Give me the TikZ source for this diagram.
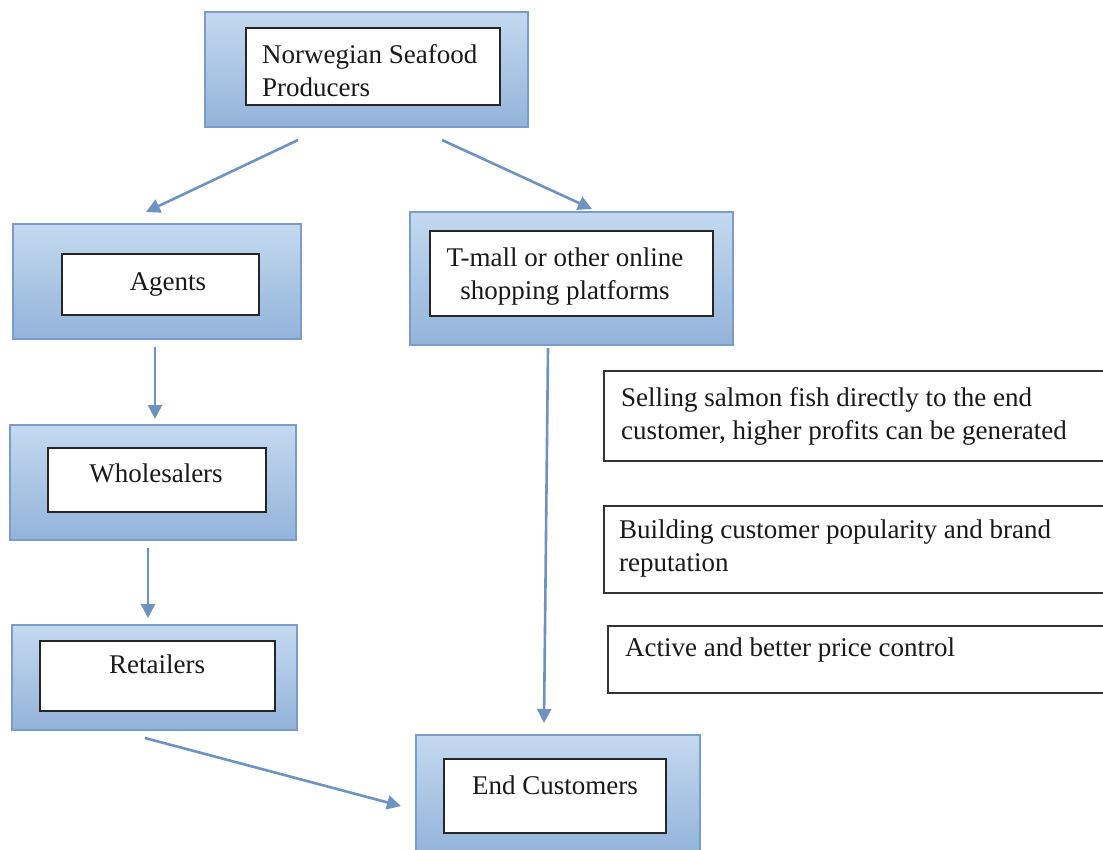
\documentclass[tikz,border=0pt]{standalone}
\usepackage{fontspec}
\setmainfont{Liberation Serif}
\usetikzlibrary{arrows.meta}
\definecolor{boxtop}{HTML}{C4D9F0}
\definecolor{boxbot}{HTML}{93B3DA}
\definecolor{boxline}{HTML}{7B9CC7}
\definecolor{arrowc}{HTML}{6F93C1}
\tikzset{
  outerbox/.style={rectangle, draw=boxline, line width=2.2pt, top color=boxtop, bottom color=boxbot, inner sep=0pt},
  innerbox/.style={rectangle, draw=black!85, line width=1.5pt, fill=white, inner sep=0pt},
  notebox/.style={rectangle, draw=black!80, line width=1.5pt, fill=white, inner sep=0pt},
  label/.style={inner sep=0pt, font=\fontsize{27}{33}\selectfont, text=black!90},
  flow/.style={draw=arrowc, line width=2.6pt, -{Triangle[length=14pt,width=14pt]}}
}
\begin{document}
\begin{tikzpicture}[x=1pt,y=-1pt]
\useasboundingbox[fill=white] (0,0) rectangle (1103,849);
% Producers
\node[outerbox, minimum width=323, minimum height=115] (prodO) at (366.5,69.5) {};
\node[innerbox, minimum width=254, minimum height=77] (prodI) at (373,66.5) {};
\node[label, align=left, anchor=north west] (prodT) at (262,44) {Norwegian Seafood\\Producers};
% Agents
\node[outerbox, minimum width=288, minimum height=115] (agO) at (157,281.5) {};
\node[innerbox, minimum width=197, minimum height=61] (agI) at (160.5,284.5) {};
\node[label] (agT) at (168,284) {Agents};
% T-mall
\node[outerbox, minimum width=323, minimum height=133] (tmO) at (571.5,278.5) {};
\node[innerbox, minimum width=283, minimum height=85] (tmI) at (571.5,273.5) {};
\node[label, align=center] (tmT) at (565,277) {T-mall or other online\\shopping platforms};
% Wholesalers
\node[outerbox, minimum width=286, minimum height=115] (whO) at (153,482.5) {};
\node[innerbox, minimum width=218, minimum height=64] (whI) at (157,480) {};
\node[label] (whT) at (156,473) {Wholesalers};
% Retailers
\node[outerbox, minimum width=285, minimum height=105] (reO) at (154.5,677.5) {};
\node[innerbox, minimum width=235, minimum height=70] (reI) at (157.5,676) {};
\node[label] (reT) at (157,664) {Retailers};
% End customers
\node[outerbox, minimum width=284, minimum height=120] (ecO) at (558,795) {};
\node[innerbox, minimum width=222, minimum height=74] (ecI) at (555,796) {};
\node[label] (ecT) at (555,785) {End Customers};
% Notes
\node[notebox, minimum width=512, minimum height=90, anchor=north west] (n1) at (603,370) {};
\node[label, align=left, anchor=north west] (n1T) at (621,387) {Selling salmon fish directly to the end\\customer, higher profits can be generated};
\node[notebox, minimum width=512, minimum height=87, anchor=north west] (n2) at (603,505) {};
\node[label, align=left, anchor=north west] (n2T) at (619,520) {Building customer popularity and brand\\reputation};
\node[notebox, minimum width=508, minimum height=67, anchor=north west] (n3) at (607,625) {};
\node[label, align=left, anchor=north west] (n3T) at (625,638) {Active and better price control};
% Connector end points
\coordinate (c1s) at (298,140); \coordinate (c1e) at (146,212);
\coordinate (c2s) at (442,140); \coordinate (c2e) at (592,209);
\coordinate (c3s) at (155,347); \coordinate (c3e) at (155,419);
\coordinate (c4s) at (148,548); \coordinate (c4e) at (148,618);
\coordinate (c5s) at (548,348); \coordinate (c5e) at (544,723);
\coordinate (c6s) at (145,738); \coordinate (c6e) at (401,806);
\draw[flow] (c1s) -- (c1e);
\draw[flow] (c2s) -- (c2e);
\draw[flow] (c3s) -- (c3e);
\draw[flow] (c4s) -- (c4e);
\draw[flow] (c5s) -- (c5e);
\draw[flow] (c6s) -- (c6e);
\end{tikzpicture}
\end{document}
